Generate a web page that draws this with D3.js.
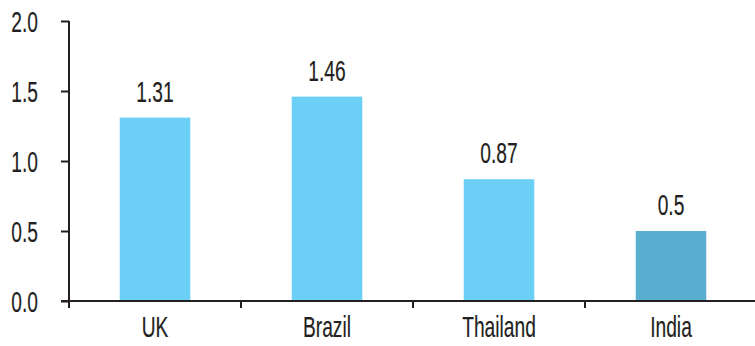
<!DOCTYPE html>
<html>
<head>
<meta charset="utf-8">
<script src="https://cdn.jsdelivr.net/npm/d3@7"></script>
<style>
  body { margin: 0; background: #fff; }
  svg text { font-family: "Liberation Sans", Arial, sans-serif; fill: #231f20; stroke: #231f20; stroke-width: 0.2px; font-size: 30px; }
</style>
</head>
<body>
<svg width="755" height="346"></svg>
<script>
const countries = ['UK', 'Brazil', 'Thailand', 'India'];
const values = [1.31, 1.46, 0.87, 0.5];
const labels = ['1.31', '1.46', '0.87', '0.5'];
const yTicks = [0, 0.5, 1.0, 1.5, 2.0];

const svg = d3.select('svg');
const plotLeft = 69, plotRight = 757, plotTop = 21, plotBottom = 301;
const ink = '#231f20';
const squeeze = 0.64; // condensed look

const xScale = d3.scaleBand()
  .domain(countries)
  .range([plotLeft, plotRight])
  .paddingInner(0.59)
  .paddingOuter(0.295);

const yScale = d3.scaleLinear()
  .domain([0, 2])
  .range([plotBottom, plotTop]);

const centre = d => xScale(d) + xScale.bandwidth() / 2;

// Bars.
svg.selectAll('rect.bar')
  .data(countries)
  .enter()
  .append('rect')
  .attr('class', 'bar')
  .attr('x', d => xScale(d))
  .attr('y', (d, i) => yScale(values[i]))
  .attr('width', xScale.bandwidth())
  .attr('height', (d, i) => plotBottom - yScale(values[i]))
  .attr('fill', (d, i) => i === 3 ? '#5aaecf' : '#6bcff6');

// Value labels.
svg.selectAll('text.val')
  .data(countries)
  .enter()
  .append('text')
  .attr('class', 'val')
  .attr('transform', (d, i) => `translate(${centre(d)},${yScale(values[i]) - 16}) scale(${squeeze},1)`)
  .attr('text-anchor', 'middle')
  .text((d, i) => labels[i]);

// Y axis.
const yAxis = d3.axisLeft(yScale)
  .tickValues(yTicks)
  .tickFormat(d3.format('.1f'))
  .tickSize(8);

const gy = svg.append('g')
  .attr('transform', `translate(${plotLeft},0)`)
  .call(yAxis);
gy.attr('font-size', null).attr('font-family', null);
gy.select('.domain').attr('d', `M0,${plotTop}V${plotBottom + 7}`);
gy.selectAll('line, .domain').attr('stroke', ink).attr('stroke-width', 2);
gy.selectAll('text')
  .attr('fill', ink)
  .attr('x', -31 / squeeze)
  .attr('dy', '0.36em')
  .attr('transform', `scale(${squeeze},1)`);

// X axis: boundary ticks between categories.
const boundaries = countries.map((d, i) => plotLeft + i * xScale.step());
svg.append('line')
  .attr('x1', plotLeft - 8).attr('x2', 755)
  .attr('y1', plotBottom).attr('y2', plotBottom)
  .attr('stroke', ink).attr('stroke-width', 2);
svg.selectAll('line.xt')
  .data(boundaries)
  .enter()
  .append('line')
  .attr('class', 'xt')
  .attr('x1', d => d).attr('x2', d => d)
  .attr('y1', plotBottom).attr('y2', plotBottom + 7)
  .attr('stroke', ink).attr('stroke-width', 2);

svg.selectAll('text.cat')
  .data(countries)
  .enter()
  .append('text')
  .attr('class', 'cat')
  .attr('transform', d => `translate(${centre(d)},337) scale(${squeeze},1)`)
  .attr('text-anchor', 'middle')
  .text(d => d);
</script>
</body>
</html>
